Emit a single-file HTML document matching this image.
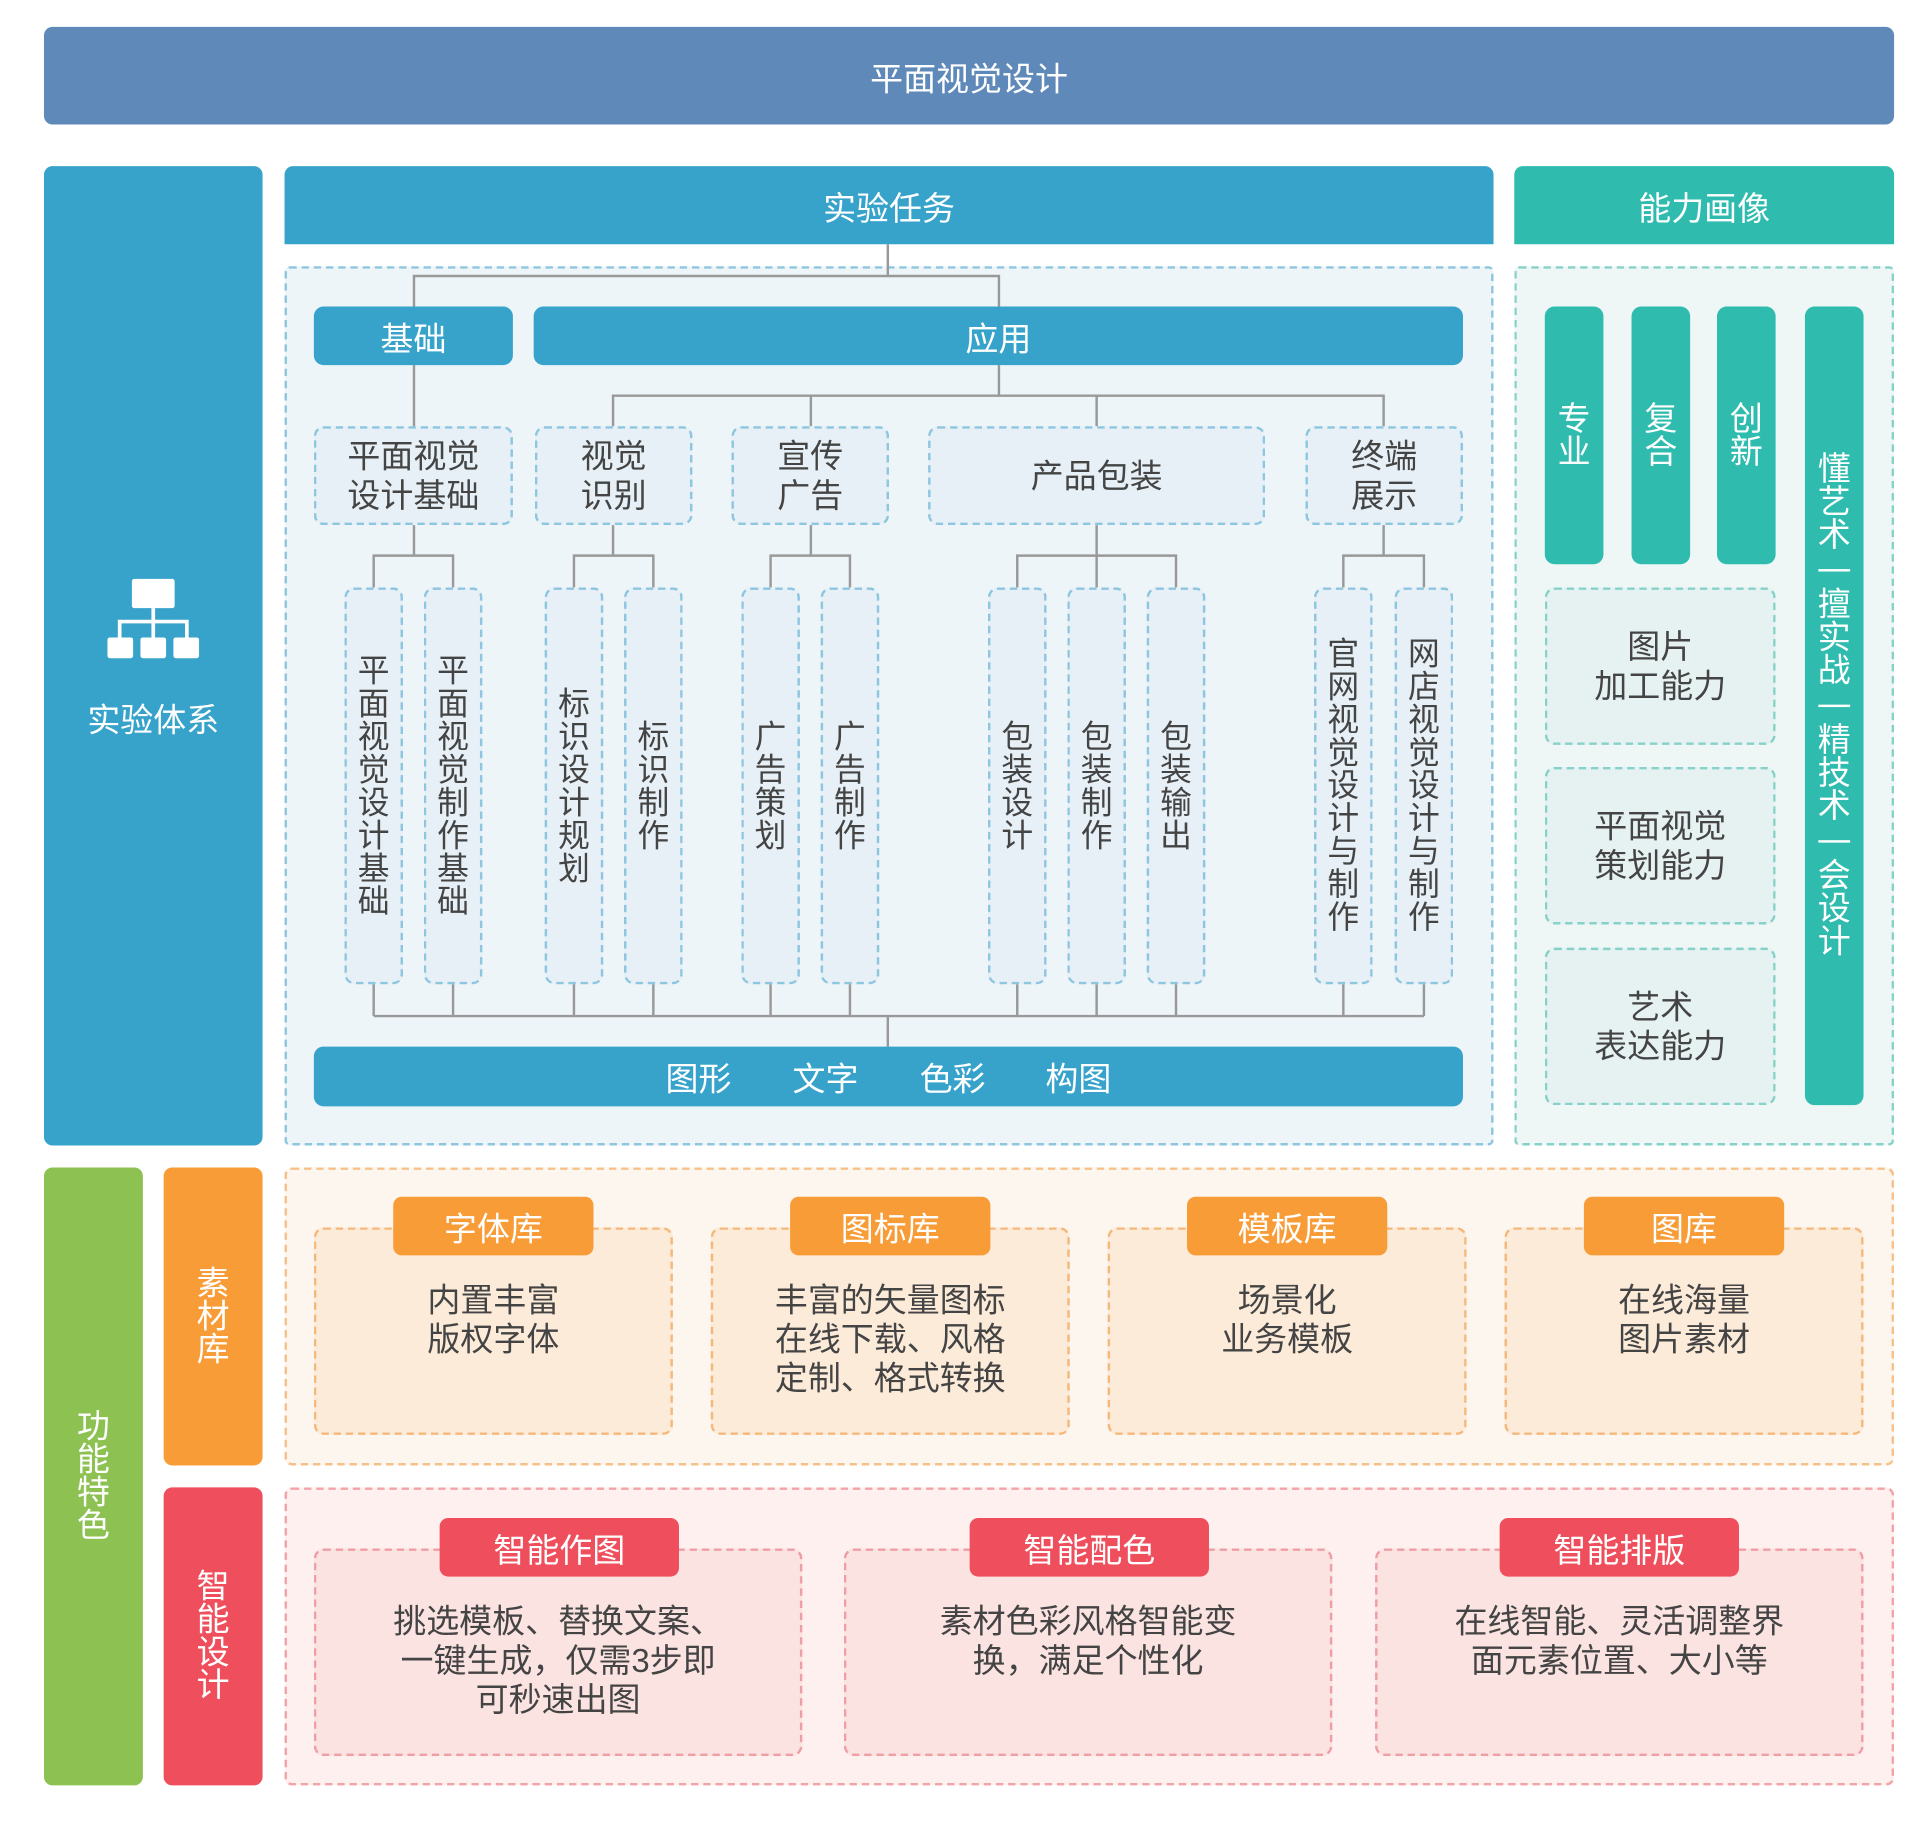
<!DOCTYPE html>
<html><head><meta charset="utf-8"><style>
html,body{margin:0;padding:0;background:#fff;width:1913px;height:1829px;overflow:hidden}
#w{position:absolute;left:0;top:0;width:1560px;height:1492px;transform:scale(1.2212);transform-origin:0 0;font-family:"Liberation Sans","Noto Sans CJK SC",sans-serif}
.a{position:absolute;box-sizing:border-box}
.c{display:flex;align-items:center;justify-content:center;text-align:center}
.wt{color:#fff;font-size:27px}
.dk{color:#444;font-size:27px;line-height:32px}
.b{background:#37a3cb}
.l2{background:#e6f0f6;border:2px dashed #8ec5df;border-radius:8px}
.lf{background:#e6f0f6;border:2px dashed #8ec5df;border-radius:8px;flex-direction:column;font-size:26px;color:#444;line-height:27px}
.t{background:#2fbcaf;border-radius:8px;flex-direction:column;color:#fff;font-size:27px;line-height:27px}
.ab{background:#e5f2f1;border:2px dashed #86d2c8;border-radius:8px}
.oc{background:#fcebd9;border:2px dashed #f4b87c;border-radius:8px;padding-top:42px;align-items:flex-start}
.ot{background:#f89c37;border-radius:7px}
.rc{background:#fbe3e2;border:2px dashed #ef9ea4;border-radius:8px;padding-top:42px;align-items:flex-start}
.rt{background:#ef4f5c;border-radius:7px}
.v{flex-direction:column;line-height:27px}
</style></head><body><div id="w">
<div class="a c wt" style="left:36px;top:22px;width:1515px;height:80px;background:#5f89b8;border-radius:7px">平面视觉设计</div>

<div class="a b" style="left:36px;top:136px;width:179px;height:802px;border-radius:7px"></div>
<svg class="a" style="left:0;top:0" width="240" height="600"><g fill="#fff"><rect x="108" y="474" width="35" height="24" rx="2"/><rect x="88" y="522" width="21" height="17" rx="2"/><rect x="115" y="522" width="21" height="17" rx="2"/><rect x="142" y="522" width="21" height="17" rx="2"/></g><g stroke="#fff" stroke-width="3" fill="none"><path d="M125.5 498V522M98 522V509H153V522"/></g></svg>
<div class="a c wt" style="left:36px;top:570px;width:179px;height:34px">实验体系</div>

<div class="a c wt b" style="left:233px;top:136px;width:990px;height:64px;border-radius:7px 7px 0 0">实验任务</div>
<div class="a" style="left:233px;top:218px;width:990px;height:720px;background:#eef5f9;border:2px dashed #8ec5df;border-radius:4px"></div>
<svg class="a" style="left:0;top:0" width="1560" height="900"><g stroke="#999" stroke-width="2" fill="none">
<path d="M727 200V226M339 251V226H818V251"/>
<path d="M339 299V349M818 299V324M502 349V324H1133V349M664 324V349M898 324V349"/>
<path d="M339 430V455M306 481V455H371V481"/>
<path d="M502 430V455M470 481V455H535V481"/>
<path d="M664 430V455M631 481V455H696V481"/>
<path d="M898 430V481M833 481V455H963V481"/>
<path d="M1133 430V455M1100 481V455H1166V481"/>
<path d="M306 806V832M371 806V832M470 806V832M535 806V832M631 806V832M696 806V832M833 806V832M898 806V832M963 806V832M1100 806V832M1166 806V832M306 832H1166M727 832V857"/>
</g></svg>
<div class="a c wt b" style="left:257px;top:251px;width:163px;height:48px;border-radius:8px">基础</div>
<div class="a c wt b" style="left:437px;top:251px;width:761px;height:48px;border-radius:8px">应用</div>
<div class="a c dk l2" style="left:257px;top:349px;width:163px;height:81px">平面视觉<br>设计基础</div>
<div class="a c dk l2" style="left:438px;top:349px;width:129px;height:81px">视觉<br>识别</div>
<div class="a c dk l2" style="left:599px;top:349px;width:129px;height:81px">宣传<br>广告</div>
<div class="a c dk l2" style="left:760px;top:349px;width:276px;height:81px">产品包装</div>
<div class="a c dk l2" style="left:1069px;top:349px;width:129px;height:81px">终端<br>展示</div>

<div class="a c lf" style="left:282px;top:481px;width:48px;height:325px"><span>平</span><span>面</span><span>视</span><span>觉</span><span>设</span><span>计</span><span>基</span><span>础</span></div>
<div class="a c lf" style="left:347px;top:481px;width:48px;height:325px"><span>平</span><span>面</span><span>视</span><span>觉</span><span>制</span><span>作</span><span>基</span><span>础</span></div>
<div class="a c lf" style="left:446px;top:481px;width:48px;height:325px"><span>标</span><span>识</span><span>设</span><span>计</span><span>规</span><span>划</span></div>
<div class="a c lf" style="left:511px;top:481px;width:48px;height:325px"><span>标</span><span>识</span><span>制</span><span>作</span></div>
<div class="a c lf" style="left:607px;top:481px;width:48px;height:325px"><span>广</span><span>告</span><span>策</span><span>划</span></div>
<div class="a c lf" style="left:672px;top:481px;width:48px;height:325px"><span>广</span><span>告</span><span>制</span><span>作</span></div>
<div class="a c lf" style="left:809px;top:481px;width:48px;height:325px"><span>包</span><span>装</span><span>设</span><span>计</span></div>
<div class="a c lf" style="left:874px;top:481px;width:48px;height:325px"><span>包</span><span>装</span><span>制</span><span>作</span></div>
<div class="a c lf" style="left:939px;top:481px;width:48px;height:325px"><span>包</span><span>装</span><span>输</span><span>出</span></div>
<div class="a c lf" style="left:1076px;top:481px;width:48px;height:325px"><span>官</span><span>网</span><span>视</span><span>觉</span><span>设</span><span>计</span><span>与</span><span>制</span><span>作</span></div>
<div class="a c lf" style="left:1142px;top:481px;width:48px;height:325px"><span>网</span><span>店</span><span>视</span><span>觉</span><span>设</span><span>计</span><span>与</span><span>制</span><span>作</span></div>

<div class="a b" style="left:257px;top:857px;width:941px;height:49px;border-radius:8px"></div>
<div class="a c wt" style="left:537px;top:857px;width:70px;height:49px">图形</div>
<div class="a c wt" style="left:641px;top:857px;width:70px;height:49px">文字</div>
<div class="a c wt" style="left:745px;top:857px;width:70px;height:49px">色彩</div>
<div class="a c wt" style="left:848px;top:857px;width:70px;height:49px">构图</div>

<div class="a c wt" style="left:1240px;top:136px;width:311px;height:64px;background:#2fbcaf;border-radius:7px 7px 0 0">能力画像</div>
<div class="a" style="left:1240px;top:218px;width:311px;height:720px;background:#eef7f6;border:2px dashed #86d2c8;border-radius:4px"></div>
<div class="a c t" style="left:1265px;top:251px;width:48px;height:211px"><span>专</span><span>业</span></div>
<div class="a c t" style="left:1336px;top:251px;width:48px;height:211px"><span>复</span><span>合</span></div>
<div class="a c t" style="left:1406px;top:251px;width:48px;height:211px"><span>创</span><span>新</span></div>
<div class="a c t" style="left:1478px;top:251px;width:48px;height:654px"><span>懂</span><span>艺</span><span>术</span><span style="display:block;width:26px;height:2px;background:#fff;margin:14px 0"></span><span>擅</span><span>实</span><span>战</span><span style="display:block;width:26px;height:2px;background:#fff;margin:14px 0"></span><span>精</span><span>技</span><span>术</span><span style="display:block;width:26px;height:2px;background:#fff;margin:14px 0"></span><span>会</span><span>设</span><span>计</span></div>
<div class="a c dk ab" style="left:1265px;top:481px;width:189px;height:129px">图片<br>加工能力</div>
<div class="a c dk ab" style="left:1265px;top:628px;width:189px;height:129px">平面视觉<br>策划能力</div>
<div class="a c dk ab" style="left:1265px;top:776px;width:189px;height:129px">艺术<br>表达能力</div>

<div class="a c wt v" style="left:36px;top:956px;width:81px;height:506px;background:#8dc152;border-radius:7px"><span>功</span><span>能</span><span>特</span><span>色</span></div>
<div class="a c wt v" style="left:134px;top:956px;width:81px;height:244px;background:#f89c37;border-radius:7px"><span>素</span><span>材</span><span>库</span></div>
<div class="a c wt v" style="left:134px;top:1218px;width:81px;height:244px;background:#ef4f5c;border-radius:7px"><span>智</span><span>能</span><span>设</span><span>计</span></div>

<div class="a" style="left:233px;top:956px;width:1318px;height:244px;background:#fdf6ee;border:2px dashed #f6c089;border-radius:6px"></div>
<div class="a c dk oc" style="left:257px;top:1005px;width:294px;height:170px">内置丰富<br>版权字体</div>
<div class="a c dk oc" style="left:582px;top:1005px;width:294px;height:170px">丰富的矢量图标<br>在线下载、风格<br>定制、格式转换</div>
<div class="a c dk oc" style="left:907px;top:1005px;width:294px;height:170px">场景化<br>业务模板</div>
<div class="a c dk oc" style="left:1232px;top:1005px;width:294px;height:170px">在线海量<br>图片素材</div>
<div class="a c wt ot" style="left:322px;top:980px;width:164px;height:48px">字体库</div>
<div class="a c wt ot" style="left:647px;top:980px;width:164px;height:48px">图标库</div>
<div class="a c wt ot" style="left:972px;top:980px;width:164px;height:48px">模板库</div>
<div class="a c wt ot" style="left:1297px;top:980px;width:164px;height:48px">图库</div>

<div class="a" style="left:233px;top:1218px;width:1318px;height:244px;background:#fdf0ef;border:2px dashed #f2a3a7;border-radius:6px"></div>
<div class="a c dk rc" style="left:257px;top:1268px;width:400px;height:170px">挑选模板、替换文案、<br>一键生成，仅需3步即<br>可秒速出图</div>
<div class="a c dk rc" style="left:691px;top:1268px;width:400px;height:170px">素材色彩风格智能变<br>换，满足个性化</div>
<div class="a c dk rc" style="left:1126px;top:1268px;width:400px;height:170px">在线智能、灵活调整界<br>面元素位置、大小等</div>
<div class="a c wt rt" style="left:360px;top:1243px;width:196px;height:48px">智能作图</div>
<div class="a c wt rt" style="left:794px;top:1243px;width:196px;height:48px">智能配色</div>
<div class="a c wt rt" style="left:1228px;top:1243px;width:196px;height:48px">智能排版</div>
</div></body></html>
